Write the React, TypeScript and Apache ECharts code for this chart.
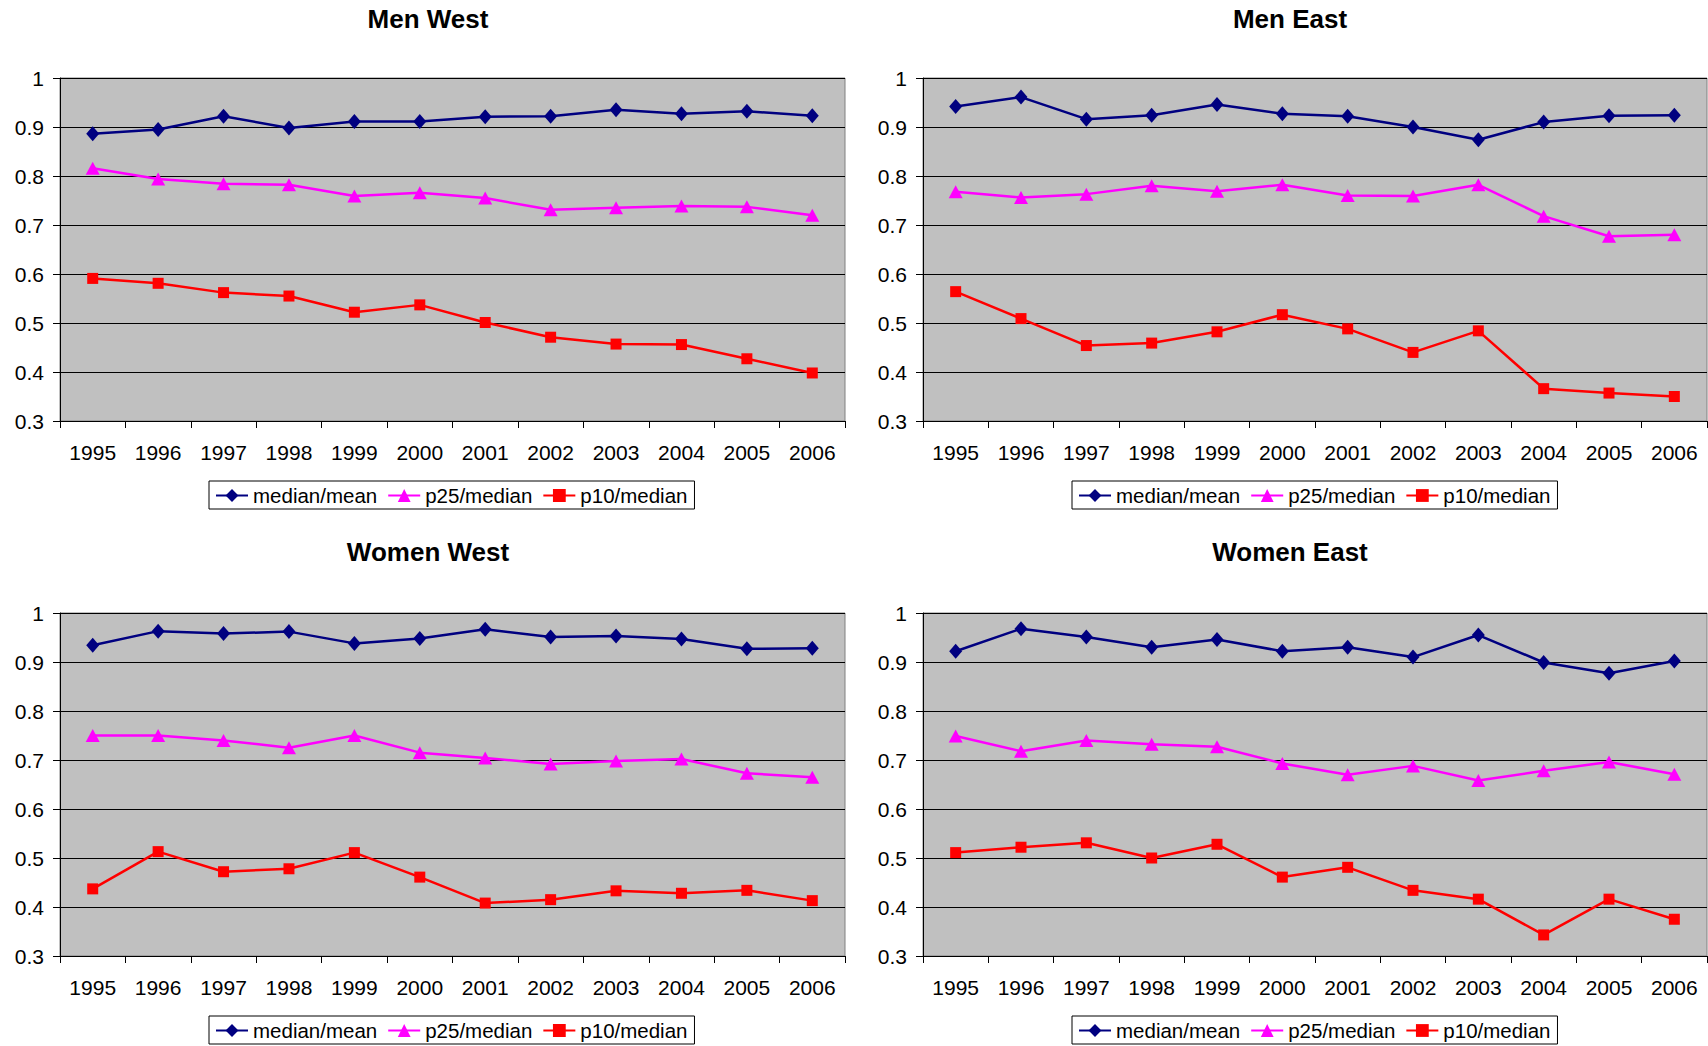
import React, { useEffect, useRef } from "react";
import * as echarts from "echarts";

const years = ["1995", "1996", "1997", "1998", "1999", "2000", "2001", "2002", "2003", "2004", "2005", "2006"];
const seriesNames = ["median/mean", "p25/median", "p10/median"];
const panelTitles = ["Men West", "Men East", "Women West", "Women East"];
const yTicks = [0.3, 0.4, 0.5, 0.6, 0.7, 0.8, 0.9, 1];

const menWestMedian = [0.886, 0.895, 0.922, 0.898, 0.911, 0.911, 0.921, 0.922, 0.935, 0.927, 0.932, 0.923];
const menWestP25 = [0.816, 0.794, 0.784, 0.782, 0.759, 0.766, 0.755, 0.731, 0.735, 0.739, 0.737, 0.72];
const menWestP10 = [0.591, 0.581, 0.562, 0.555, 0.522, 0.537, 0.501, 0.471, 0.457, 0.456, 0.427, 0.398];

const menEastMedian = [0.942, 0.961, 0.916, 0.924, 0.946, 0.927, 0.922, 0.9, 0.874, 0.91, 0.923, 0.924];
const menEastP25 = [0.768, 0.756, 0.763, 0.78, 0.769, 0.782, 0.76, 0.759, 0.782, 0.718, 0.677, 0.68];
const menEastP10 = [0.564, 0.509, 0.454, 0.459, 0.482, 0.517, 0.488, 0.44, 0.484, 0.366, 0.357, 0.35];

const womenWestMedian = [0.934, 0.963, 0.958, 0.962, 0.938, 0.948, 0.967, 0.951, 0.953, 0.947, 0.927, 0.928];
const womenWestP25 = [0.75, 0.75, 0.74, 0.725, 0.75, 0.715, 0.704, 0.692, 0.698, 0.702, 0.673, 0.665];
const womenWestP10 = [0.437, 0.513, 0.472, 0.478, 0.511, 0.461, 0.408, 0.415, 0.433, 0.428, 0.434, 0.413];

const womenEastMedian = [0.922, 0.968, 0.951, 0.93, 0.946, 0.922, 0.93, 0.91, 0.955, 0.899, 0.877, 0.902];
const womenEastP25 = [0.749, 0.718, 0.74, 0.732, 0.727, 0.693, 0.67, 0.688, 0.658, 0.678, 0.696, 0.671];
const womenEastP10 = [0.511, 0.522, 0.531, 0.5, 0.528, 0.461, 0.481, 0.434, 0.416, 0.343, 0.416, 0.375];

const panelData = [
  [menWestMedian, menWestP25, menWestP10],
  [menEastMedian, menEastP25, menEastP10],
  [womenWestMedian, womenWestP25, womenWestP10],
  [womenEastMedian, womenEastP25, womenEastP10],
];

const FONT = '"Liberation Sans", Arial, sans-serif';
const colors = ["#000080", "#FF00FF", "#FF0000"];
const symbols = ["diamond", "triangle", "rect"];
const symbolSizes: any[] = [[13, 15], [14, 13], [11, 11]];

const panelLayout = [
  { left: 60, top: 78, width: 785, titleX: 428, titleY: 6, legendX: 209 },
  { left: 923, top: 78, width: 784, titleX: 1290, titleY: 6, legendX: 1072 },
  { left: 60, top: 613, width: 785, titleX: 428, titleY: 539, legendX: 209 },
  { left: 923, top: 613, width: 784, titleX: 1290, titleY: 539, legendX: 1072 },
];
const plotHeight = 343;

export default function App() {
  const ref = useRef<HTMLDivElement>(null);
  useEffect(() => {
    document.body.style.margin = "0";
    if (!ref.current) return;
    const chart = echarts.init(ref.current, null, { renderer: "svg" });

    const grid = panelLayout.map((p) => ({
      left: p.left,
      top: p.top,
      width: p.width,
      height: plotHeight,
      show: true,
      backgroundColor: "#C0C0C0",
      borderColor: "#808080",
      borderWidth: 1,
      containLabel: false,
    }));

    const title = panelLayout.map((p, i) => ({
      text: panelTitles[i],
      left: p.titleX,
      top: p.titleY,
      textAlign: "center",
      padding: 0,
      textStyle: { fontFamily: FONT, fontWeight: "bold", fontSize: 26, color: "#000" },
    }));

    const legend = panelLayout.map((p) => ({
      data: seriesNames,
      left: p.legendX,
      top: p.top + plotHeight + 60,
      orient: "horizontal",
      itemWidth: 32,
      itemHeight: 16,
      itemGap: 10,
      padding: [4, 7, 3, 6],
      borderColor: "#000",
      borderWidth: 1,
      backgroundColor: "#fff",
      selectedMode: false,
      textStyle: { fontFamily: FONT, fontSize: 20.5, color: "#000" },
    }));

    const xAxis = panelLayout.map((_, i) => ({
      type: "category",
      gridIndex: i,
      data: years,
      boundaryGap: true,
      axisLine: { show: true, lineStyle: { color: "#000", width: 1 } },
      axisTick: { show: true, length: 7, inside: false, alignWithLabel: false, lineStyle: { color: "#000" } },
      axisLabel: { fontFamily: FONT, fontSize: 21, color: "#000", margin: 21, interval: 0 },
      splitLine: { show: false },
    }));

    const yAxis = panelLayout.map((_, i) => ({
      type: "value",
      gridIndex: i,
      min: 0.3,
      max: 1,
      interval: 0.1,
      axisLine: { show: true, lineStyle: { color: "#000", width: 1 } },
      axisTick: { show: true, length: 7, inside: false, lineStyle: { color: "#000" } },
      axisLabel: {
        fontFamily: FONT,
        fontSize: 21,
        color: "#000",
        margin: 16,
        formatter: (v: number) => {
          const t = yTicks.find((k) => Math.abs(k - v) < 1e-6);
          return String(t !== undefined ? t : Math.round(v * 10) / 10);
        },
      },
      splitLine: { show: true, lineStyle: { color: "#000", width: 1 } },
    }));

    const series: any[] = [];
    panelData.forEach((arrs, gi) => {
      arrs.forEach((vals, si) => {
        series.push({
          type: "line",
          name: seriesNames[si],
          xAxisIndex: gi,
          yAxisIndex: gi,
          data: vals,
          symbol: symbols[si],
          symbolSize: symbolSizes[si],
          showAllSymbol: true,
          lineStyle: { color: colors[si], width: 2.5 },
          itemStyle: { color: colors[si], borderWidth: 0 },
          z: 3 + si,
        });
      });
    });

    chart.setOption({
      animation: false,
      backgroundColor: "#fff",
      title,
      legend,
      grid,
      xAxis,
      yAxis,
      series,
    });
    return () => chart.dispose();
  }, []);
  return <div ref={ref} style={{ width: 1708, height: 1046 }} />;
}
